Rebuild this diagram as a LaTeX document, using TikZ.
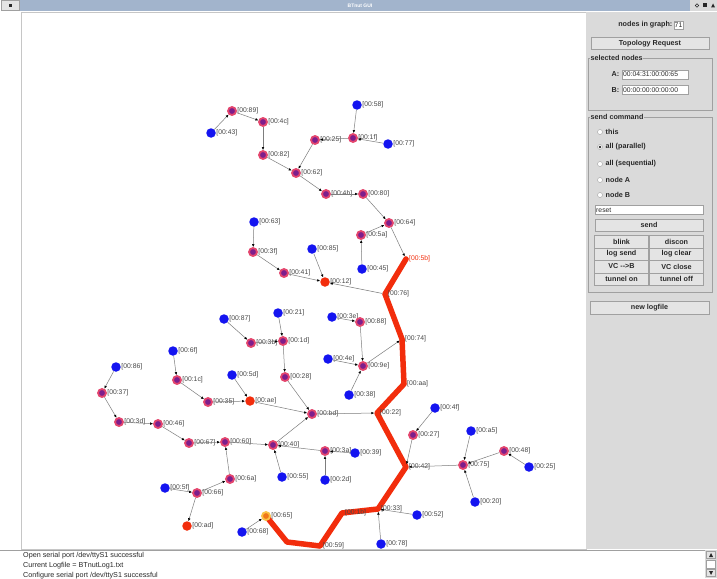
\documentclass[tikz,border=0pt]{standalone}
\usepackage{fontspec}
\setmainfont{Liberation Sans}
\usepackage{xcolor}
\usepackage{tikz}
\usetikzlibrary{arrows.meta,positioning}
\definecolor{nodeblue}{RGB}{20,20,240}
\definecolor{nodepurple}{RGB}{125,30,140}
\definecolor{nodering}{RGB}{228,70,110}
\definecolor{hopred}{RGB}{242,45,12}
\definecolor{selorange}{RGB}{240,120,25}
\definecolor{selring}{RGB}{250,195,70}
\definecolor{labgrey}{RGB}{70,70,70}
\definecolor{edgegrey}{RGB}{125,125,125}
\definecolor{panel}{RGB}{218,218,218}
\definecolor{btnfill}{RGB}{228,228,228}
\definecolor{btnline}{RGB}{160,160,160}
\definecolor{txtdark}{RGB}{40,40,40}
\definecolor{titlebar}{RGB}{162,180,204}
\pgfdeclarelayer{bg}
\pgfsetlayers{bg,main}

\begin{document}
\begin{tikzpicture}[x=1pt,y=-1pt,
  bnode/.style={circle,fill=nodeblue,inner sep=0pt,minimum size=9.5pt},
  pnode/.style={circle,fill=nodepurple,draw=nodering,line width=1.8pt,inner sep=0pt,minimum size=8pt},
  rnode/.style={circle,fill=hopred,inner sep=0pt,minimum size=9.5pt},
  hnode/.style={circle,fill=hopred,inner sep=0pt,minimum size=5pt},
  onode/.style={circle,fill=selorange,draw=selring,line width=1.8pt,inner sep=0pt,minimum size=8pt},
  lab/.style={font=\fontsize{6.8}{7}\selectfont,text=labgrey,inner sep=0.3pt},
  edge/.style={draw=edgegrey,line width=0.5pt,-{Latex[length=3pt,width=2.6pt,color=black]}},
  route/.style={draw=hopred,line width=5.5pt,line join=round,line cap=round},
  btn/.style={draw=btnline,fill=btnfill,inner sep=0pt,font=\fontsize{7.2}{8}\selectfont\bfseries,text=txtdark},
  field/.style={draw=btnline,fill=white,inner xsep=1pt,inner ysep=0pt,align=left,font=\fontsize{6.8}{7}\selectfont,text=txtdark},
  gui/.style={font=\fontsize{7.2}{8}\selectfont\bfseries,text=txtdark,inner sep=0.5pt},
  radio/.style={circle,draw=btnline,fill=white,inner sep=0pt,minimum size=5pt},
  logtxt/.style={font=\fontsize{7.2}{8}\selectfont,text=txtdark,inner sep=0pt,anchor=west}]

  \useasboundingbox (0,0) rectangle (717,578);
  \begin{pgfonlayer}{bg}
    \fill[white] (0,0) rectangle (717,578);
  \end{pgfonlayer}

  \fill[titlebar] (20,0) rectangle (690,11);
  \node[font=\fontsize{5}{5}\selectfont\bfseries,text=white] (title) at (360,5.5) {BTnut GUI};
  \node[draw=btnline,fill=btnfill,minimum width=18pt,minimum height=10pt,inner sep=0pt] (close) at (10,5.5) {};
  \fill[txtdark] (8.5,4) rectangle (11.5,7);
  \fill[panel] (690,0) rectangle (717,11);
  \draw[txtdark,line width=0.5pt] (697,5.5) circle (1.8pt);
  \fill[txtdark] (703,3.5) rectangle (707,7.5);
  \fill[txtdark] (711,7.5) -- (713,3.5) -- (715,7.5) -- cycle;

  \draw[btnline!60] (21,12) rectangle (586,549);
  \fill[panel] (586,12) rectangle (717,549);

  \foreach \n/\x/\y/\t/\s in {
     n89/232/111/{[00:89]}/pnode, n43/211/133/{[00:43]}/bnode, n4c/263/122/{[00:4c]}/pnode,
     n82/263/155/{[00:82]}/pnode, n58/357/105/{[00:58]}/bnode, n1f/353/138/{[00:1f]}/pnode,
     n77/388/144/{[00:77]}/bnode, n25/315/140/{[00:25]}/pnode, n62/296/173/{[00:62]}/pnode,
     n4b/326/194/{[00:4b]}/pnode, n80/363/194/{[00:80]}/pnode, n64/389/223/{[00:64]}/pnode,
     n5a/361/235/{[00:5a]}/pnode, n45/362/269/{[00:45]}/bnode, n63/254/222/{[00:63]}/bnode,
     n3f/253/252/{[00:3f]}/pnode, n41/284/273/{[00:41]}/pnode, n85/312/249/{[00:85]}/bnode,
     n12/325/282/{[00:12]}/rnode, n87/224/319/{[00:87]}/bnode, n21/278/313/{[00:21]}/bnode,
     n3b/251/343/{[00:3b]}/pnode, n1d/283/341/{[00:1d]}/pnode, n28/285/377/{[00:28]}/pnode,
     n6f/173/351/{[00:6f]}/bnode, n1c/177/380/{[00:1c]}/pnode, n5d/232/375/{[00:5d]}/bnode,
     n35/208/402/{[00:35]}/pnode, nae/250/401/{[00:ae]}/rnode, n86/116/367/{[00:86]}/bnode,
     n37/102/393/{[00:37]}/pnode, n3d/119/422/{[00:3d]}/pnode, n46/158/424/{[00:46]}/pnode,
     nbd/312/414/{[00:bd]}/pnode, n3e/332/317/{[00:3e]}/bnode, n88/360/322/{[00:88]}/pnode,
     n4e/328/359/{[00:4e]}/bnode, n9e/363/366/{[00:9e]}/pnode, n38/349/395/{[00:38]}/bnode,
     n67/189/443/{[00:67]}/pnode, n60/225/442/{[00:60]}/pnode, n40/273/445/{[00:40]}/pnode,
     n3a/325/451/{[00:3a]}/pnode, n39/355/453/{[00:39]}/bnode, n55/282/477/{[00:55]}/bnode,
     n2d/325/480/{[00:2d]}/bnode, n6a/230/479/{[00:6a]}/pnode, n5f/165/488/{[00:5f]}/bnode,
     n66/197/493/{[00:66]}/pnode, nad/187/526/{[00:ad]}/rnode, n68/242/532/{[00:68]}/bnode,
     n4f/435/408/{[00:4f]}/bnode, n27/413/435/{[00:27]}/pnode, na5/471/431/{[00:a5]}/bnode,
     n48/504/451/{[00:48]}/pnode, n75/463/465/{[00:75]}/pnode, n25b/529/467/{[00:25]}/bnode,
     n20/475/502/{[00:20]}/bnode, n52/417/515/{[00:52]}/bnode, n78/381/544/{[00:78]}/bnode,
     n76/385/294/{[00:76]}/hnode, n74/402/339/{[00:74]}/hnode, naa/404/384/{[00:aa]}/hnode,
     n22/377/413/{[00:22]}/hnode, n42/406/467/{[00:42]}/hnode, n33/378/509/{[00:33]}/hnode,
     n1b/342/513/{[00:1b]}/hnode, n59/320/546/{[00:59]}/hnode, n65/266/516/{[00:65]}/onode}
  { \node[\s,label={[lab]0:\t}] (\n) at (\x,\y) {}; }
  \node[hnode,label={[lab,text=hopred]0:{[00:5b]}}] (n5b) at (406,259) {};
  \coordinate (bend) at (287,542);

  \begin{pgfonlayer}{bg}
    \draw[route] (n5b.center) -- (n76.center) -- (n74.center) -- (naa.center) -- (n22.center)
      -- (n42.center) -- (n33.center) -- (n1b.center) -- (n59.center) -- (bend) -- (n65.center);
  \end{pgfonlayer}

  \foreach \a/\b in {n43/n89, n89/n4c, n4c/n82, n82/n62, n58/n1f, n77/n1f, n1f/n25, n25/n62,
     n62/n4b, n4b/n80, n80/n64, n45/n5a, n5a/n64, n64/n5b, n63/n3f, n3f/n41, n41/n12, n85/n12,
     n76/n12, n87/n3b, n3b/n1d, n21/n1d, n1d/n28, n28/nbd, n6f/n1c, n1c/n35, n35/nae, n5d/nae,
     nae/nbd, n86/n37, n37/n3d, n3d/n46, n46/n67, n67/n60, n6a/n60, n66/n6a, n5f/n66, n66/nad,
     n60/n40, n55/n40, n3a/n40, n39/n3a, n2d/n3a, n40/nbd, nbd/n22, n3e/n88, n88/n9e, n4e/n9e,
     n38/n9e, n9e/n74, n4f/n27, n27/n42, n75/n42, na5/n75, n48/n75, n25b/n48, n20/n75,
     n52/n33, n78/n33, n68/n65}
  { \draw[edge] (\a) -- (\b); }

  \node[gui,anchor=east] (count) at (673,25) {nodes in graph:};
  \node[field,minimum width=9pt,minimum height=8pt,inner xsep=0pt] (countbox) at (678.5,25) {71};
  \node[btn,minimum width=118pt,minimum height=12pt] (topo) at (650,43.5) {Topology Request};

  \draw[btnline] (588,58) rectangle (712,110);
  \node[gui,fill=panel,anchor=west] (selhead) at (590,58) {selected nodes};
  \node[gui,anchor=east] (alab) at (620,74.5) {A:};
  \node[field,text width=64pt,minimum height=9pt,anchor=west] (afield) at (622,74.5) {00:04:31:00:00:65};
  \node[gui,anchor=east] (blab) at (620,90) {B:};
  \node[field,text width=64pt,minimum height=9pt,anchor=west] (bfield) at (622,90) {00:00:00:00:00:00};

  \draw[btnline] (588,117) rectangle (712,292);
  \node[gui,fill=panel,anchor=west] (sendhead) at (590,117) {send command};
  \foreach \n/\y/\t in {rthis/132/this, rpar/147/all (parallel), rseq/164/all (sequential),
     rnodea/180/node A, rnodeb/195/node B}
  { \node[radio] (\n) at (600,\y) {};
    \node[gui,anchor=west] (t\n) at (605,\y) {\t}; }
  \fill[txtdark] (rpar) circle (1.3pt);
  \node[field,text width=106pt,minimum height=9pt,anchor=west] (cmd) at (595,210) {reset};
  \node[btn,minimum width=108pt,minimum height=12pt] (send) at (649,225) {send};
  \foreach \n/\x/\y/\t in {bblink/621.5/241.5/blink, bdiscon/676.5/241.5/discon,
     blogsend/621.5/254/log send, blogclear/676.5/254/log clear,
     bvcb/621.5/266.5/VC -{}->B, bvcclose/676.5/266.5/VC close,
     btunon/621.5/279/tunnel on, btunoff/676.5/279/tunnel off}
  { \node[btn,minimum width=54pt,minimum height=12.5pt] (\n) at (\x,\y) {\t}; }
  \node[btn,minimum width=119pt,minimum height=13pt] (newlog) at (649.5,308) {new logfile};

  \fill[white] (21,550) rectangle (705,578);
  \draw[btnline] (0,550) -- (717,550);
  \node[logtxt] (log1) at (23,556) {Open serial port /dev/ttyS1 successful};
  \node[logtxt] (log2) at (23,566) {Current Logfile = BTnutLog1.txt};
  \node[logtxt] (log3) at (23,575.5) {Configure serial port /dev/ttyS1 successful};
  \fill[panel] (705,550) rectangle (717,578);
  \draw[btnline,fill=btnfill] (706.5,551.5) rectangle (715.5,558.5);
  \draw[btnline,fill=white] (706.5,560) rectangle (715.5,568);
  \draw[btnline,fill=btnfill] (706.5,569.5) rectangle (715.5,576.5);
  \fill[txtdark] (709,557) -- (711,553) -- (713,557) -- cycle;
  \fill[txtdark] (709,571) -- (711,575) -- (713,571) -- cycle;
\end{tikzpicture}
\end{document}
